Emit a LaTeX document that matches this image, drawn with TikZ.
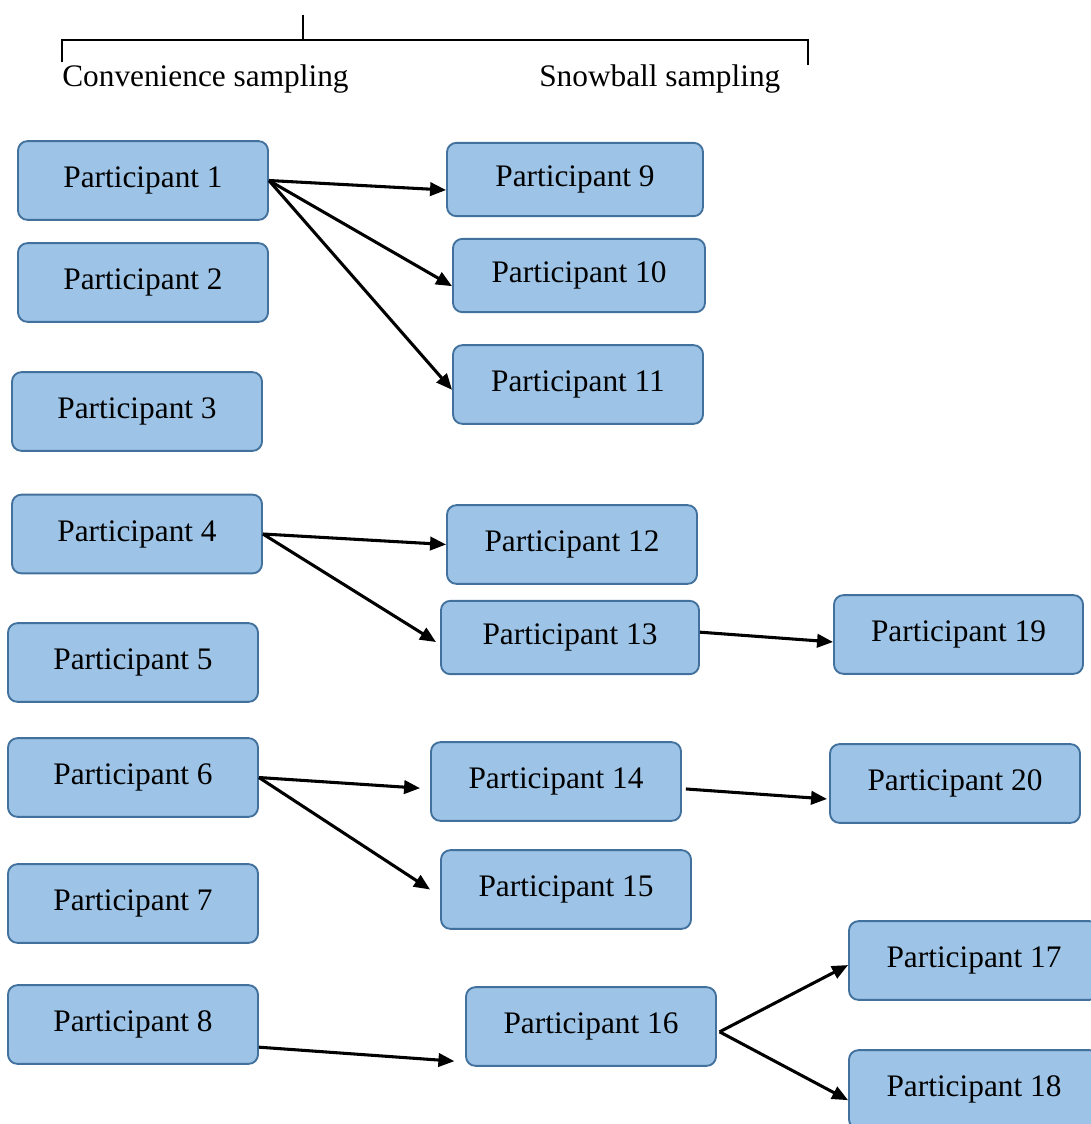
\documentclass[tikz,border=0pt]{standalone}
\usepackage{fontspec}
\setmainfont{Liberation Serif}
\usepackage{tikz}
\usetikzlibrary{positioning,arrows.meta}
\definecolor{boxfill}{HTML}{9DC3E6}
\definecolor{boxline}{HTML}{41719C}

\begin{document}
\begin{tikzpicture}[x=0.75pt,y=-0.75pt,
		participant/.style={draw=boxline,fill=boxfill,line width=1.4pt,rounded corners=7pt,
			minimum width=187.5pt,minimum height=59pt,inner sep=0pt,
			font=\fontsize{23.5}{28}\selectfont},
		link/.style={-{Triangle[length=12pt,width=10pt]},line width=2.3pt}]
	\useasboundingbox (0,0) rectangle (1090,1124);
	% bracket over the two groups
	\draw[line width=1.6pt] (303,15) -- (303,40);
	\draw[line width=1.6pt] (62,62) -- (62,40) -- (808,40) -- (808,65);
	\node[anchor=base west,inner sep=0pt,font=\fontsize{23.5}{28}\selectfont] (conv) at (62,87) {Convenience sampling};
	\node[anchor=base west,inner sep=0pt,font=\fontsize{23.5}{28}\selectfont] (snow) at (539,87) {Snowball sampling};
	% convenience sample
	\node[participant] (p1) at (143,180.5) {Participant 1};
	\node[participant] (p2) at (143,282.5) {Participant 2};
	\node[participant] (p3) at (137,411.5) {Participant 3};
	\node[participant] (p4) at (137,534) {Participant 4};
	\node[participant] (p5) at (133,662.5) {Participant 5};
	\node[participant] (p6) at (133,777.5) {Participant 6};
	\node[participant] (p7) at (133,903.5) {Participant 7};
	\node[participant] (p8) at (133,1024.5) {Participant 8};
	% snowball sample
	\node[participant,minimum width=192pt,minimum height=55pt] (p9) at (575,179.5) {Participant 9};
	\node[participant,minimum width=189pt,minimum height=55pt] (p10) at (579,275.5) {Participant 10};
	\node[participant] (p11) at (578,384.5) {Participant 11};
	\node[participant] (p12) at (572,544.5) {Participant 12};
	\node[participant,minimum width=193.5pt,minimum height=55pt] (p13) at (570,637.5) {Participant 13};
	\node[participant] (p14) at (556,781.5) {Participant 14};
	\node[participant] (p15) at (566,889.5) {Participant 15};
	\node[participant] (p16) at (591,1026.5) {Participant 16};
	\node[participant] (p17) at (974,960.5) {Participant 17};
	\node[participant] (p18) at (974,1089.5) {Participant 18};
	\node[participant,minimum width=186.75pt] (p19) at (958.5,634.5) {Participant 19};
	\node[participant] (p20) at (955,783.5) {Participant 20};
	% referrals
	\draw[link] (p1.east) -- ([yshift=-7.9pt]p9.west);
	\draw[link] (p1.east) -- ([yshift=-8pt]p10.west);
	\draw[link] (p1.east) -- ([yshift=-4pt]p11.west);
	\draw[link] (p4.east) -- (p12.west);
	\draw[link] (p4.east) -- ([xshift=-3pt,yshift=-3.4pt]p13.west);
	\draw[link] ([yshift=4pt]p13.east) -- ([yshift=-5.6pt]p19.west);
	\draw[link] (p6.east) -- ([xshift=-7.5pt,yshift=-5pt]p14.west);
	\draw[link] (p6.east) -- ([xshift=-7.5pt]p15.west);
	\draw[link] ([xshift=3pt,yshift=-5.6pt]p14.east) -- ([xshift=-1.5pt,yshift=-11.6pt]p20.west);
	\draw[link] ([yshift=-17pt]p8.east) -- ([xshift=-8pt,yshift=-26pt]p16.west);
	\draw[link] ([xshift=2pt,yshift=-4pt]p16.east) -- ([yshift=-3.4pt]p17.west);
	\draw[link] ([xshift=2pt,yshift=-4pt]p16.east) -- ([yshift=-8pt]p18.west);
\end{tikzpicture}
\end{document}
